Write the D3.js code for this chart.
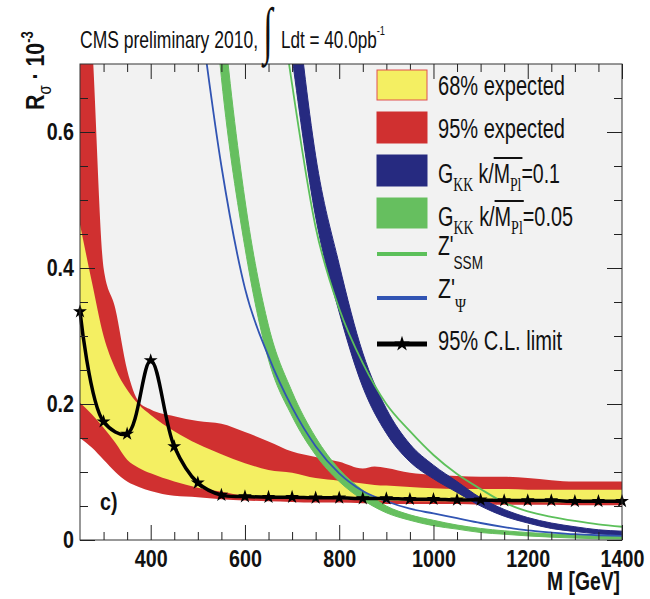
<!DOCTYPE html>
<html><head><meta charset="utf-8">
<script src="https://cdn.jsdelivr.net/npm/d3@7"></script>
<style>
body{margin:0;background:#fff;}
svg{display:block;}
text{font-family:"Liberation Sans Narrow","Liberation Sans",Arial,sans-serif;fill:#111;}
</style></head><body>
<svg id="c" width="650" height="599"></svg>
<script>
// ---------------- DATA ----------------
const expM    = [250,275,300,325,350,375,400,450,500,550,600,650,700,750,800,850,875,900,950,1000,1050,1100,1150,1200,1250,1300,1350,1400];
const exp95Hi = [0.95,0.74,0.40,0.34,0.25,0.203,0.192,0.182,0.175,0.171,0.159,0.145,0.130,0.122,0.115,0.105,0.108,0.106,0.099,0.096,0.094,0.093,0.093,0.091,0.088,0.086,0.086,0.086];
const exp68Hi = [0.464,0.38,0.30,0.252,0.221,0.199,0.184,0.160,0.141,0.126,0.113,0.103,0.099,0.091,0.087,0.083,0.081,0.080,0.078,0.076,0.075,0.075,0.075,0.074,0.074,0.074,0.074,0.074];
const exp68Lo = [0.202,0.185,0.165,0.143,0.118,0.106,0.098,0.086,0.077,0.071,0.065,0.063,0.062,0.061,0.060,0.059,0.058,0.058,0.057,0.057,0.057,0.056,0.056,0.056,0.055,0.055,0.055,0.055];
const exp95Lo = [0.150,0.136,0.118,0.100,0.086,0.078,0.072,0.065,0.063,0.060,0.058,0.057,0.056,0.055,0.055,0.054,0.054,0.053,0.053,0.053,0.053,0.052,0.052,0.052,0.052,0.051,0.051,0.051];

const obsM     = [250,300,350,400,450,500,550,600,650,700,750,800,850,900,950,1000,1050,1100,1150,1200,1250,1300,1350,1400];
const obsLimit = [0.336,0.174,0.156,0.264,0.1375,0.084,0.066,0.064,0.063,0.063,0.062,0.062,0.061,0.061,0.060,0.060,0.059,0.059,0.058,0.058,0.058,0.057,0.057,0.057];

const thM      = [500,550,600,650,700,750,800,850,900,950,1000,1050,1100,1150,1200,1250,1300,1350,1400];
const zPsi     = [0.80,0.55,0.37,0.27,0.195,0.138,0.098,0.072,0.057,0.046,0.039,0.032,0.025,0.019,0.014,0.011,0.0085,0.007,0.006];
const zSSM     = [2.2,1.6,1.2,0.92,0.67,0.46,0.34,0.26,0.20,0.16,0.125,0.097,0.075,0.055,0.042,0.034,0.028,0.023,0.0195];
const gkk005Hi = [1.25,0.80,0.50,0.315,0.218,0.151,0.104,0.073,0.050,0.037,0.029,0.022,0.017,0.0135,0.011,0.0088,0.0072,0.0062,0.0056];
const gkk005Lo = [1.10,0.68,0.43,0.265,0.182,0.125,0.086,0.059,0.040,0.029,0.021,0.016,0.011,0.0085,0.006,0.0042,0.0028,0.0018,0.0014];
const gkk01Hi  = [3.5,2.4,1.7,1.2,0.85,0.565,0.405,0.275,0.193,0.141,0.110,0.086,0.062,0.045,0.033,0.025,0.0195,0.015,0.013];
const gkk01Lo  = [3.0,2.0,1.4,1.0,0.71,0.475,0.335,0.225,0.157,0.115,0.090,0.070,0.050,0.035,0.025,0.017,0.0125,0.009,0.007];

const xTickValues = [400,600,800,1000,1200,1400];
const xTickLabels = ["400","600","800","1000","1200","1400"];
const yTickValues = [0,0.2,0.4,0.6];
const yTickLabels = ["0","0.2","0.4","0.6"];

// ---------------- LAYOUT ----------------
const svg = d3.select("#c");
const L=80, R=622, T=64, B=540;
const x = d3.scaleLinear().domain([250,1400]).range([L,R]);
const y = d3.scaleLinear().domain([0,0.7]).range([B,T]);

const C = {gray:"#f2f2f2", red:"#d03030", yellow:"#f4ef62", dblue:"#262a80", green:"#66bf5f",
           lgreen:"#5cc05a", lblue:"#3154b3"};

svg.append("rect").attr("width",650).attr("height",599).attr("fill","#fff");
svg.append("defs").append("clipPath").attr("id","clip")
  .append("rect").attr("x",L).attr("y",T).attr("width",R-L).attr("height",B-T);
const plot = svg.append("g").attr("clip-path","url(#clip)");
plot.append("rect").attr("x",L).attr("y",T).attr("width",R-L).attr("height",B-T).attr("fill",C.gray);

const cv = d3.curveMonotoneX;
function area(M, lo, hi){
  return d3.area().x((d,i)=>x(M[i])).y0((d,i)=>lo(i)).y1((d,i)=>hi(i)).curve(cv)(M);
}
// white below expected band
plot.append("path").attr("fill","#fff")
  .attr("d", area(expM, i=>B+5, i=>y(exp95Lo[i])));
plot.append("path").attr("fill",C.red)
  .attr("d", area(expM, i=>y(exp95Lo[i]), i=>y(exp95Hi[i])));
plot.append("path").attr("fill",C.yellow)
  .attr("d", area(expM, i=>y(exp68Lo[i]), i=>y(exp68Hi[i])));

// theory bands
plot.append("path").attr("fill",C.green).attr("stroke",C.green).attr("stroke-width",1)
  .attr("d", area(thM, i=>y(gkk005Lo[i]), i=>y(gkk005Hi[i])));
plot.append("path").attr("fill",C.dblue).attr("stroke",C.dblue).attr("stroke-width",1)
  .attr("d", area(thM, i=>y(gkk01Lo[i]), i=>y(gkk01Hi[i])));
const ln = (M, v) => d3.line().x((d,i)=>x(M[i])).y((d,i)=>y(v[i])).curve(cv)(M);
plot.append("path").attr("fill","none").attr("stroke",C.lblue).attr("stroke-width",1.8).attr("d", ln(thM, zPsi));
plot.append("path").attr("fill","none").attr("stroke",C.lgreen).attr("stroke-width",1.8).attr("d", ln(thM, zSSM));

// observed
svg.append("path").attr("fill","none").attr("stroke","#000").attr("stroke-width",3.5)
  .attr("d", d3.line().x((d,i)=>x(obsM[i])).y((d,i)=>y(obsLimit[i])).curve(d3.curveCatmullRom)(obsM));
const star = d3.symbol().type(d3.symbolStar).size(60);
svg.append("g").selectAll("path").data(obsM).join("path")
  .attr("transform",(d,i)=>`translate(${x(d)},${y(obsLimit[i])})`)
  .attr("d", star()).attr("fill","#000");

// frame + axes
svg.append("rect").attr("x",L).attr("y",T).attr("width",R-L).attr("height",B-T)
  .attr("fill","none").attr("stroke","#333").attr("stroke-width",1);
const xMinor = d3.range(300,1400,50).filter(v=>v%200!==0);
const yMinor = d3.range(0.05,0.7,0.05).filter(v=>Math.abs(v/0.2-Math.round(v/0.2))>0.01);
function styleAxis(g){ g.select(".domain").remove(); g.selectAll(".tick line").attr("stroke","#222"); }
svg.append("g").attr("transform",`translate(0,${B})`)
  .call(d3.axisBottom(x).tickValues(xTickValues).tickSize(-15).tickPadding(10).tickFormat((d,i)=>xTickLabels[i]))
  .call(styleAxis).attr("class","lab");
svg.append("g").attr("transform",`translate(0,${B})`)
  .call(d3.axisBottom(x).tickValues(xMinor).tickSize(-8).tickFormat("")).call(styleAxis);
svg.append("g").attr("transform",`translate(0,${T})`)
  .call(d3.axisTop(x).tickValues(xTickValues).tickSize(-15).tickFormat("")).call(styleAxis);
svg.append("g").attr("transform",`translate(0,${T})`)
  .call(d3.axisTop(x).tickValues(xMinor).tickSize(-8).tickFormat("")).call(styleAxis);
svg.append("g").attr("transform",`translate(${L},0)`)
  .call(d3.axisLeft(y).tickValues(yTickValues).tickSize(-15).tickPadding(6).tickFormat((d,i)=>yTickLabels[i]))
  .call(styleAxis).attr("class","lab");
svg.append("g").attr("transform",`translate(${L},0)`)
  .call(d3.axisLeft(y).tickValues(yMinor).tickSize(-8).tickFormat("")).call(styleAxis);
svg.append("g").attr("transform",`translate(${R},0)`)
  .call(d3.axisRight(y).tickValues(yTickValues).tickSize(-15).tickFormat("")).call(styleAxis);
svg.append("g").attr("transform",`translate(${R},0)`)
  .call(d3.axisRight(y).tickValues(yMinor).tickSize(-8).tickFormat("")).call(styleAxis);
svg.selectAll(".lab text").attr("font-size",24).attr("font-weight","bold")
  .style("font-family",'"Liberation Sans Narrow","Liberation Sans",Arial,sans-serif').attr("fill","#111");

// axis titles
svg.append("text").attr("x",620).attr("y",590).attr("text-anchor","end")
  .attr("font-size",25).attr("font-weight","bold").attr("textLength",73).attr("lengthAdjust","spacingAndGlyphs")
  .text("M [GeV]");
const yt = svg.append("text").attr("transform","translate(44,110) rotate(-90)")
  .attr("font-size",26).attr("font-weight","bold");
yt.append("tspan").text("R");
yt.append("tspan").attr("dy",7).attr("font-size",18).attr("font-weight","normal").text("σ");
yt.append("tspan").attr("dy",-7).text(" · 10");
yt.append("tspan").attr("dy",-11).attr("font-size",16).text("-3");

svg.append("text").attr("x",100).attr("y",510).attr("font-size",24).attr("font-weight","bold").text("c)");

// title
svg.append("text").attr("x",80).attr("y",48).attr("font-size",24)
  .attr("textLength",178).attr("lengthAdjust","spacingAndGlyphs").text("CMS preliminary 2010,");
svg.append("text").attr("transform","translate(268,51) scale(0.55,1)").attr("text-anchor","middle")
  .attr("font-size",62).style("font-family","'Liberation Serif',serif").text("∫");
const ldt = svg.append("text").attr("x",281).attr("y",48).attr("font-size",24)
  .attr("textLength",104).attr("lengthAdjust","spacingAndGlyphs");
ldt.append("tspan").text("Ldt = 40.0pb");
ldt.append("tspan").attr("dy",-13).attr("font-size",13).text("-1");

// legend
const lg = svg.append("g");
const bx = 377, bw = 50, tx = 438, fs = 27;
const boxes = [{y:70,h:30,f:C.yellow,s:"#e05050"},{y:112,h:31,f:C.red,s:C.red},{y:155,h:31,f:C.dblue,s:C.dblue},{y:198,h:30,f:C.green,s:C.green}];
boxes.forEach(b=>lg.append("rect").attr("x",bx).attr("y",b.y).attr("width",bw).attr("height",b.h).attr("fill",b.f).attr("stroke",b.s).attr("stroke-width",1));
lg.append("line").attr("x1",bx).attr("x2",bx+bw).attr("y1",254).attr("y2",254).attr("stroke",C.lgreen).attr("stroke-width",4);
lg.append("line").attr("x1",bx).attr("x2",bx+bw).attr("y1",298).attr("y2",298).attr("stroke",C.lblue).attr("stroke-width",4);
lg.append("line").attr("x1",bx).attr("x2",bx+bw).attr("y1",344).attr("y2",344).attr("stroke","#000").attr("stroke-width",5);
lg.append("path").attr("transform",`translate(${bx+bw/2},344)`).attr("d",d3.symbol().type(d3.symbolStar).size(75)()).attr("fill","#000");

function lt(yb, str, w){ return lg.append("text").attr("x",tx).attr("y",yb).attr("font-size",fs)
  .attr("textLength",w).attr("lengthAdjust","spacingAndGlyphs").text(str); }
lt(95,"68% expected",127);
lt(138,"95% expected",127);
lt(350,"95% C.L. limit",124);

function gkk(yb, val, w){
  const t = lg.append("text").attr("x",tx).attr("y",yb).attr("font-size",fs)
    .attr("textLength",w).attr("lengthAdjust","spacingAndGlyphs");
  t.append("tspan").text("G");
  t.append("tspan").attr("dy",8).attr("font-size",19).style("font-family","'Liberation Serif',serif").text("KK");
  t.append("tspan").attr("dy",-8).text(" k/M");
  t.append("tspan").attr("dy",8).attr("font-size",19).style("font-family","'Liberation Serif',serif").text("Pl");
  t.append("tspan").attr("dy",-8).text(val);
  const n = t.node();
  const x0 = n.getStartPositionOfChar(6).x, x1 = n.getEndPositionOfChar(8).x;
  lg.append("line").attr("x1",x0).attr("x2",x1+1).attr("y1",yb-25).attr("y2",yb-25).attr("stroke","#111").attr("stroke-width",2);
}
gkk(183,"=0.1",122);
gkk(226,"=0.05",135);

function zp(yb, sub, w, serif){
  const t = lg.append("text").attr("x",tx).attr("y",yb).attr("font-size",fs)
    .attr("textLength",w).attr("lengthAdjust","spacingAndGlyphs");
  t.append("tspan").text("Z'");
  const s = t.append("tspan").attr("dy",14).attr("font-size",19).text(sub);
  if(serif) s.style("font-family","'Liberation Serif',serif");
}
zp(255,"SSM",45,false);
zp(298,"Ψ",28,true);

// fallback condense if narrow font is missing
(function(){
  const a = svg.append("text").style("font-family","'Liberation Sans Narrow','Liberation Sans'").attr("font-size",100).text("0000");
  const b = svg.append("text").style("font-family","'Liberation Sans'").attr("font-size",100).text("0000");
  const narrow = Math.abs(a.node().getComputedTextLength()-b.node().getComputedTextLength())>2;
  a.remove(); b.remove();
  if(!narrow){
    svg.selectAll("text").each(function(){
      if(this.getAttribute("textLength")) return;
      if(this.textContent==="∫") return;
      const l = this.getComputedTextLength();
      d3.select(this).attr("textLength",l*0.82).attr("lengthAdjust","spacingAndGlyphs");
    });
  }
})();
</script>
</body></html>
